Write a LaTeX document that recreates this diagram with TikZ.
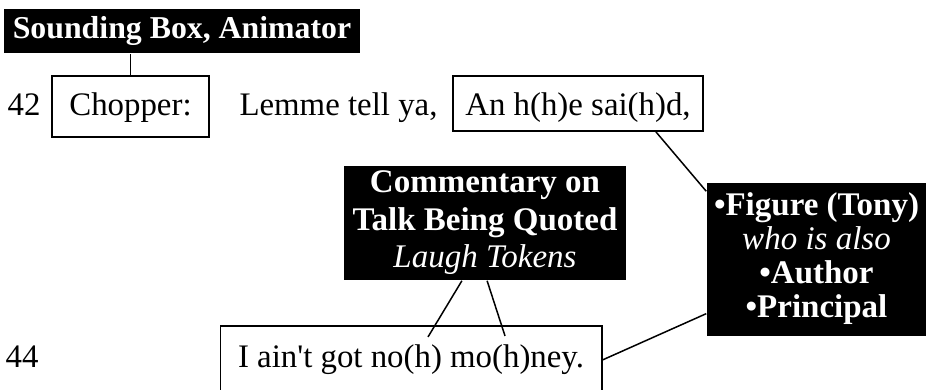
\documentclass[tikz,border=0pt,11pt]{standalone}
\usepackage{fontspec}
\setmainfont{Liberation Serif}
\tikzset{
 blk/.style={fill=black,text=white,font=\bfseries,align=center,inner sep=0pt},
 wbox/.style={draw,line width=0.65pt,inner sep=0pt,anchor=base},
}
\begin{document}
\begin{tikzpicture}[x=0.3333pt,y=-0.3333pt,line width=0.5pt]
\clip (0,0) rectangle (927,389);
\node[blk,minimum width=118.7pt,minimum height=14.7pt,font=\bfseries\fontsize{10.6}{12}\selectfont] (snd) at (182,31) {Sounding Box, Animator};
\node[anchor=base] (n42) at (24,115) {42};
\node[wbox,minimum width=52.3pt,text height=13pt,text depth=7.3pt] (chop) at (130.5,115) {Chopper:};
\node[anchor=base] (lem) at (338.5,115) {Lemme tell ya,};
\node[wbox,minimum width=83.3pt,text height=13pt,text depth=5.3pt] (an) at (578,115) {An h(h)e sai(h)d,};
\node[blk,minimum width=94pt,minimum height=38pt,font=\bfseries\fontsize{11}{12.5}\selectfont] (comm) at (485,223) {Commentary on\\Talk Being Quoted\\{\normalfont\itshape Laugh Tokens}};
\node[blk,minimum width=73pt,minimum height=51pt,font=\bfseries\fontsize{11}{11.3}\selectfont] (fig) at (816.5,259.5) {\textbullet Figure (Tony)\\{\normalfont\itshape who is also}\\\textbullet Author\\\textbullet Principal\\[-8.5pt]};
\node[anchor=base] (n44) at (22,367) {44};
\node[wbox,minimum width=127pt,text height=13.7pt,text depth=9pt] (quo) at (411,367) {I ain\textquotesingle t got no(h) mo(h)ney.};
\coordinate (h1) at ([shift={(17,12)}]quo.north);
\coordinate (h2) at ([shift={(94,11)}]quo.north);
\draw (chop.north) -- (chop.north |- snd.south);
\draw ([xshift=-16pt]an.south east) -- ([yshift=-3pt]fig.north west);
\draw ([xshift=-7.7pt]comm.south) -- (h1);
\draw ([xshift=0.7pt]comm.south) -- (h2);
\draw (quo.east) -- ([yshift=7.7pt]fig.south west);
\end{tikzpicture}
\end{document}
